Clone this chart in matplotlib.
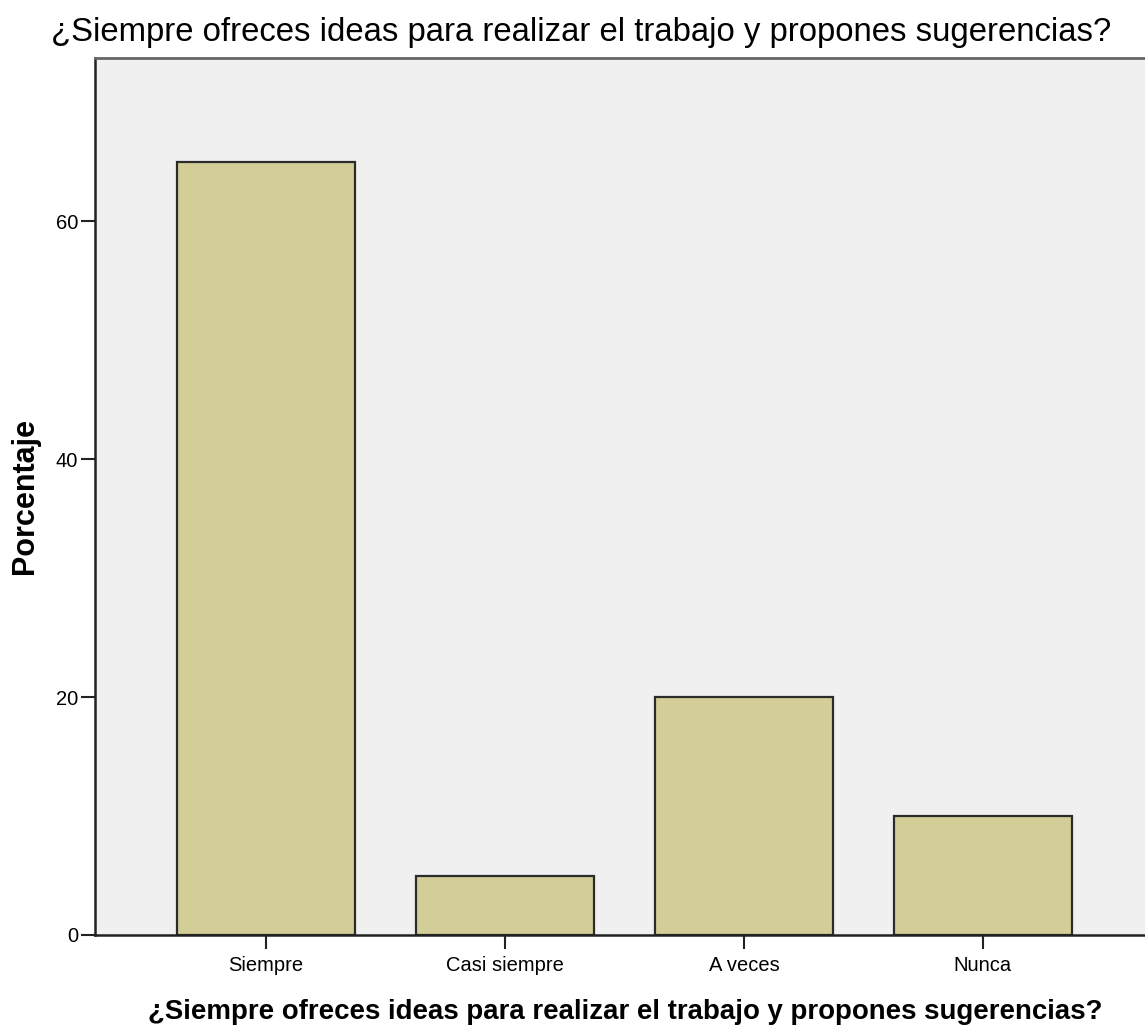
import matplotlib
matplotlib.use("Agg")
import matplotlib.pyplot as plt

categories = ["Siempre", "Casi siempre", "A veces", "Nunca"]
percent = [65, 5, 20, 10]
yticks = [0, 20, 40, 60]
title = "¿Siempre ofreces ideas para realizar el trabajo y propones sugerencias?"

plt.rcParams['font.family'] = ['Liberation Sans', 'DejaVu Sans']

W, H = 1145, 1030
fig = plt.figure(figsize=(W / 100, H / 100), dpi=100)
# axes box in pixels: left 95, right ~1154 (runs past the image edge), top 58, bottom 935
left, right, top, bottom = 95, 1154, 58, 935
ax = fig.add_axes([left / W, (H - bottom) / H, (right - left) / W, (bottom - top) / H])
ax.set_facecolor("#F0F0F0")

x = range(len(categories))
ax.bar(x, percent, width=0.745, color="#D3CE97", edgecolor="#2b2b2b", linewidth=1.6, zorder=2)

ax.set_xlim(-0.716, len(categories) - 1 + 0.716)
ax.set_ylim(0, 73.7)
ax.set_xticks(list(x))
ax.set_xticklabels(categories, fontsize=14.5)
ax.set_yticks(yticks)
ax.set_yticklabels([str(t) for t in yticks], fontsize=14.5)
ax.tick_params(axis="both", direction="out", length=10, width=1.5, color="#222222", pad=2)
ax.tick_params(axis="x", pad=5)

for side in ["left", "bottom"]:
    ax.spines[side].set_color("#222222")
    ax.spines[side].set_linewidth(1.8)
ax.spines["top"].set_color("#666666")
ax.spines["top"].set_linewidth(2)
ax.spines["right"].set_visible(False)

# titles placed in figure pixels
fig.text(581 / W, 1 - 33 / H, title, fontsize=23.7, ha="center", va="center")
fig.text(625 / W, 1 - 1012 / H, title, fontsize=19.9, fontweight="bold", ha="center", va="center")
fig.text(25 / W, 1 - 496 / H, "Porcentaje", fontsize=22, fontweight="bold",
         rotation=90, ha="center", va="center")

fig.savefig("out.png", dpi=100)
